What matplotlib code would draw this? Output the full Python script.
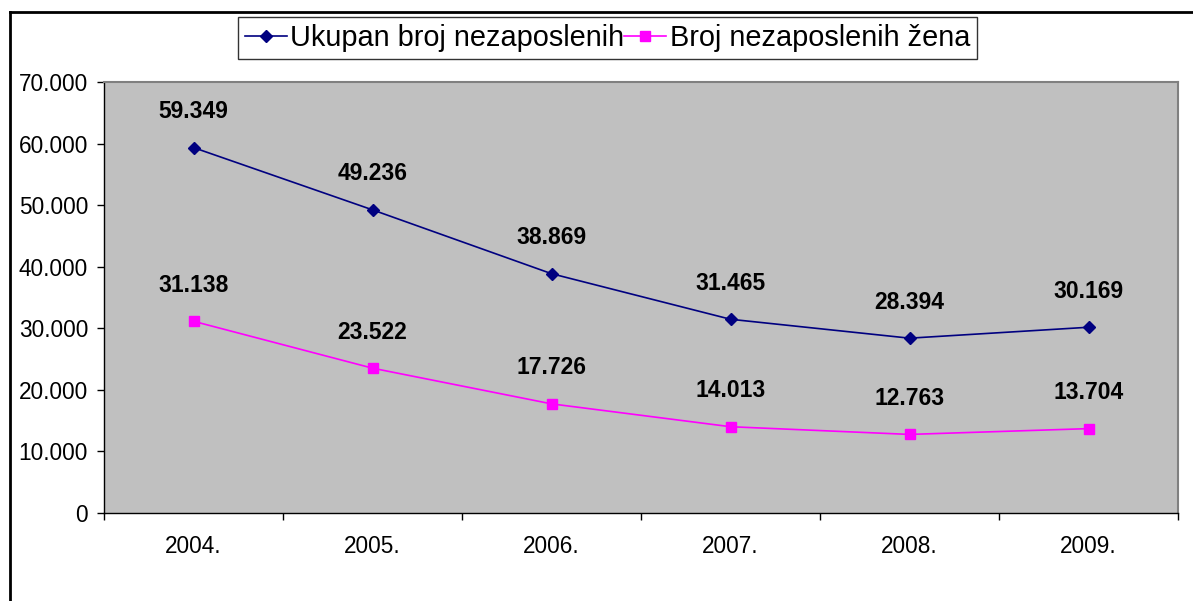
import matplotlib.pyplot as plt
from matplotlib.lines import Line2D

# ----------------------------------------
#  Data
# ----------------------------------------
YEARS = ["2004.", "2005.", "2006.", "2007.", "2008.", "2009."]
TOTAL = [59349, 49236, 38869, 31465, 28394, 30169]   # Ukupan broj nezaposlenih
WOMEN = [31138, 23522, 17726, 14013, 12763, 13704]   # Broj nezaposlenih žena
Y_TICKS = [0, 10000, 20000, 30000, 40000, 50000, 60000, 70000]

plt.rcParams["font.family"] = ["Liberation Sans", "DejaVu Sans"]


def fmt_thousands(v):
    return f"{v:,.0f}".replace(",", ".")


fig = plt.figure(figsize=(11.93, 6.01), dpi=100)
ax = fig.add_axes([104 / 1193, 1 - 513 / 601, (1178 - 104) / 1193, (513 - 82) / 601])
ax.set_facecolor("#C0C0C0")

x = list(range(len(YEARS)))
ax.plot(x, TOTAL, color="#000080", marker="D", markersize=6, linewidth=1.2,
        label="Ukupan broj nezaposlenih")
ax.plot(x, WOMEN, color="#FF00FF", marker="s", markersize=6.5, linewidth=1.2,
        label="Broj nezaposlenih žena")

for xi, v in zip(x, TOTAL):
    ax.annotate(fmt_thousands(v), (xi, v), xytext=(0, 26), textcoords="offset points",
                ha="center", va="center", fontsize=16.5, fontweight="bold")
for xi, v in zip(x, WOMEN):
    ax.annotate(fmt_thousands(v), (xi, v), xytext=(0, 26), textcoords="offset points",
                ha="center", va="center", fontsize=16.5, fontweight="bold")

ax.set_ylim(0, 70000)
ax.set_yticks(Y_TICKS)
ax.set_yticklabels([fmt_thousands(t) for t in Y_TICKS], fontsize=16.3)
ax.tick_params(axis="y", length=5, width=1, pad=6.5, direction="out")

ax.set_xlim(-0.5, len(YEARS) - 0.5)
ax.set_xticks([i - 0.5 for i in range(len(YEARS) + 1)])
ax.set_xticklabels([])
ax.set_xticks(x, minor=True)
ax.set_xticklabels(YEARS, minor=True, fontsize=16.3)
ax.tick_params(axis="x", which="major", length=5, width=1, direction="out")
ax.tick_params(axis="x", which="minor", length=0, pad=16)

for side in ("top", "right"):
    ax.spines[side].set_color("#808080")
    ax.spines[side].set_linewidth(1.5)
for side in ("left", "bottom"):
    ax.spines[side].set_color("black")
    ax.spines[side].set_linewidth(1)

leg = fig.legend(loc="center", bbox_to_anchor=(607.5 / 1193, 1 - 38 / 601), ncol=2,
                 fontsize=20.8, frameon=True, fancybox=False, shadow=False,
                 handlelength=1.45, handletextpad=0.12, columnspacing=0.0,
                 borderpad=0.25, borderaxespad=0)
leg.get_frame().set_edgecolor("black")
leg.get_frame().set_linewidth(1)

# outer chart border (top and left visible)
fig.add_artist(Line2D([9.5 / 1193, 9.5 / 1193], [0, 1 - 12 / 601], color="black",
                      linewidth=2, transform=fig.transFigure))
fig.add_artist(Line2D([9.5 / 1193, 1], [1 - 12 / 601, 1 - 12 / 601], color="black",
                      linewidth=2, transform=fig.transFigure))

fig.savefig("out.png", dpi=100)
